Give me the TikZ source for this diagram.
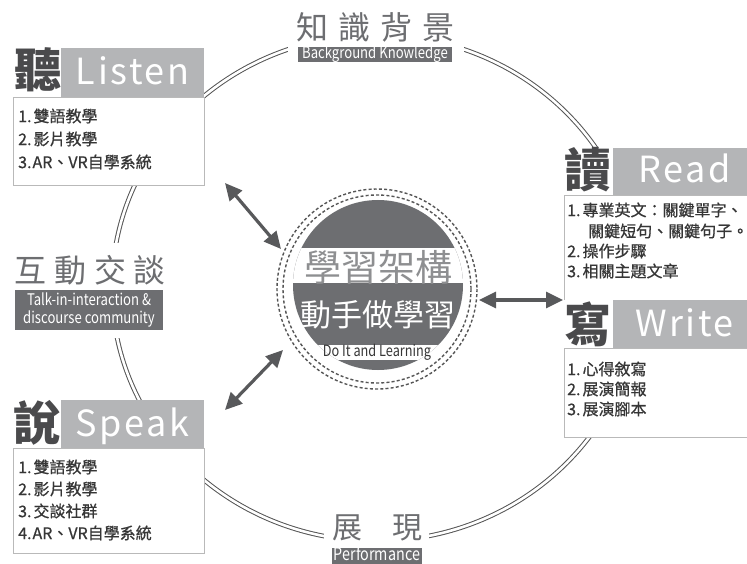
\documentclass[tikz,border=0pt]{standalone}
\usepackage{fontspec}
\setmainfont{Noto Sans CJK TC}
\newfontfamily\hdrfont[LetterSpace=7]{Noto Sans CJK TC}
\newfontfamily\condfont[FakeStretch=0.82]{Noto Sans CJK TC}
\newfontfamily\itemfont[FakeBold=0.7]{Noto Sans CJK TC}
\usetikzlibrary{arrows.meta}
\definecolor{hdrgray}{HTML}{B4B5B7}
\definecolor{chr}{HTML}{4A4A4C}
\definecolor{lbl}{HTML}{6D6E71}
\definecolor{bd}{HTML}{B9B9B9}
\definecolor{txt}{HTML}{363636}
\definecolor{ringc}{HTML}{555555}
\definecolor{arrc}{HTML}{58595B}
\definecolor{lightt}{HTML}{8E8F91}
\begin{document}
\begin{tikzpicture}[x=1pt,y=-1pt,
  listbox/.style={draw=bd, line width=0.8pt, fill=white},
  hdrbar/.style={fill=hdrgray},
  bigch/.style={font=\fontsize{47}{47}\selectfont\bfseries, text=chr, inner sep=0},
  entitle/.style={font=\hdrfont\fontsize{36}{36}\selectfont, text=white, anchor=base, inner sep=0},
  item/.style={font=\itemfont\fontsize{16}{16}\selectfont, text=txt, anchor=west, inner sep=0},
  cjklbl/.style={font=\fontsize{32}{32}\selectfont, text=lbl, inner sep=0},
  enbox/.style={fill=lbl, text=white, inner xsep=2pt, inner ysep=0pt, font=\condfont\fontsize{16}{17.5}\selectfont},
  arr/.style={draw=arrc, line width=3.2pt, {Triangle[length=17pt,width=16pt]}-{Triangle[length=17pt,width=16pt]}},
  ring/.style={draw=ringc, line width=1pt, double=white, double distance=2.6pt},
  dring/.style={draw=ringc, line width=1.4pt, dash pattern=on 3pt off 2.2pt}
]
\useasboundingbox (0,0) rectangle (747,564);
\clip (0,0) rectangle (747,564);
\fill[white] (0,0) rectangle (747,564);

% outer double ring
\draw[ring] (376,288) ellipse [x radius=264, y radius=253];

% gaps for labels
\fill[white] (288,0) rectangle (464,66);
\fill[white] (6,243) rectangle (172,338);
\fill[white] (324,500) rectangle (429,564);

% top label
\node[cjklbl] (bgk) at (375.5,27) {知\hspace{10pt}識\hspace{10pt}背\hspace{10pt}景};
\node[enbox, minimum width=154pt, text height=11.5pt, text depth=3.5pt] (bgke) at (375,54.5) {Background Knowledge};

% left label
\node[cjklbl] (tk) at (90,270) {互\hspace{8pt}動\hspace{8pt}交\hspace{8pt}談};
\node[enbox, minimum width=148pt, minimum height=40pt, align=center] (tke) at (89,310) {Talk-in-interaction \&\\discourse community};

% bottom label
\node[font=\fontsize{30}{30}\selectfont, text=lbl, inner sep=0] (pf) at (377.5,528) {展\hspace{31pt}現};
\node[enbox, minimum width=90pt, text height=12pt, text depth=4pt, font=\condfont\fontsize{17.5}{18}\selectfont] (pfe) at (377,556) {Performance};

% ---- Listen ----
\fill[white] (13,48) rectangle (204,185);
\fill[hdrbar] (61,48) rectangle (204,97);
\draw[listbox] (13,97) rectangle (204,185);
\node[bigch] (c1) at (37.5,70) {聽};
\node[entitle] (e1) at (132.5,85) {Listen};
\node[item] (l1) at (18,116) {1.\hspace{2pt}雙語教學};
\node[item] (l2) at (18,139) {2.\hspace{2pt}影片教學};
\node[item] (l3) at (18,162) {3.\hspace{1pt}AR、VR自學系統};

% ---- Speak ----
\fill[white] (13,400) rectangle (204,553);
\fill[hdrbar] (61,400) rectangle (204,448);
\draw[listbox] (13,448) rectangle (204,553);
\node[bigch] (c2) at (37,423) {說};
\node[entitle] (e2) at (132.5,436) {Speak};
\node[item] (s1) at (18,467) {1.\hspace{2pt}雙語教學};
\node[item] (s2) at (18,489) {2.\hspace{2pt}影片教學};
\node[item] (s3) at (18,511) {3.\hspace{2pt}交談社群};
\node[item] (s4) at (18,533) {4.\hspace{1pt}AR、VR自學系統};

% ---- Read ----
\fill[white] (564,148) rectangle (760,300);
\fill[hdrbar] (613,148) rectangle (760,195);
\draw[listbox] (564,195) rectangle (760,300);
\node[bigch] (c3) at (588,170) {讀};
\node[entitle] (e3) at (684.5,183) {Read};
\node[item] (r1) at (567,210) {1.\hspace{2pt}專業英文：關鍵單字、};
\node[item] (r2) at (588,231) {關鍵短句、關鍵句子。};
\node[item] (r3) at (567,251) {2.\hspace{2pt}操作步驟};
\node[item] (r4) at (567,271) {3.\hspace{2pt}相關主題文章};

% ---- Write ----
\fill[white] (564,300) rectangle (760,437);
\fill[hdrbar] (613,300) rectangle (760,348);
\draw[listbox] (564,348) rectangle (760,437);
\node[bigch] (c4) at (588,324) {寫};
\node[entitle] (e4) at (684.5,336) {Write};
\node[item] (w1) at (567,369) {1.\hspace{2pt}心得敘寫};
\node[item] (w2) at (567,389) {2.\hspace{2pt}展演簡報};
\node[item] (w3) at (567,409) {3.\hspace{2pt}展演腳本};

% ---- centre ----
\draw[dring] (377,289) circle (100);
\draw[dring] (377,289) circle (94);
\begin{scope}
  \clip (378,285) circle (85);
  \fill[lbl] (280,190) rectangle (480,380);
  \fill[white] (280,248) rectangle (480,283);
  \fill[white] (311,345) rectangle (443,360);
\end{scope}
\node[font=\fontsize{37}{37}\selectfont, text=lightt, inner sep=0] (ct1) at (378,267) {學習架構};
\node[font=\fontsize{31}{31}\selectfont, text=white, inner sep=0] (ct2) at (377.5,315) {動手做學習};
\node[font=\condfont\fontsize{15.5}{15.5}\selectfont, text=txt, inner sep=0] (ct3) at (377,352) {Do It and Learning};

% arrows
\coordinate (la) at (225,183);
\coordinate (lb) at (281,249);
\coordinate (sa) at (225,410);
\coordinate (sb) at (283,350);
\coordinate (ra) at (479,300);
\coordinate (rb) at (563,300);
\draw[arr] (la) -- (lb);
\draw[arr] (sa) -- (sb);
\draw[arr] (ra) -- (rb);
\end{tikzpicture}
\end{document}
